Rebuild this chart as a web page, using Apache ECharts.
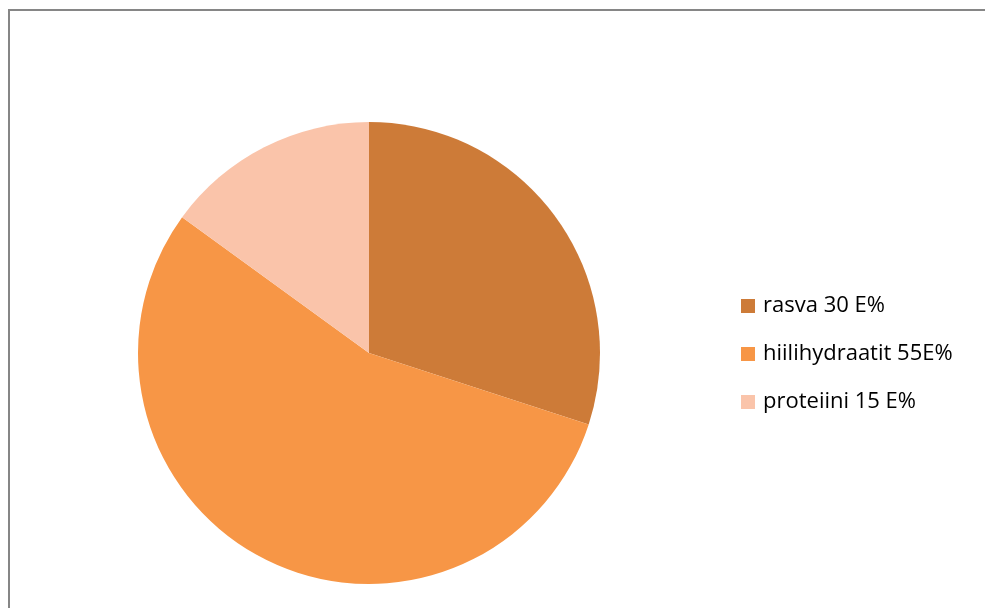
<!DOCTYPE html>
<html><head><meta charset="utf-8">
<script src="https://cdn.jsdelivr.net/npm/echarts@6/dist/echarts.min.js"></script>
<style>html,body{margin:0;padding:0;background:#fff}#c{width:985px;height:608px}</style>
</head><body><div id="c"></div>
<script>
const categories = ['rasva 30 E%', 'hiilihydraatit 55E%', 'proteiini 15 E%'];
const values = [30, 55, 15];
const colors = ['#CD7B38', '#F79646', '#FAC4AA'];
const chart = echarts.init(document.getElementById('c'));
chart.setOption({
  animation: false,
  graphic: [{type:'rect', shape:{x:9, y:10, width:1100, height:800}, style:{fill:'none', stroke:'#868686', lineWidth:2}, silent:true}],
  legend: {
    orient: 'vertical', left: 736, top: 290,
    itemWidth: 14, itemHeight: 14, itemGap: 26, icon: 'rect',
    textStyle: {fontFamily: 'Open Sans', fontSize: 22, color: '#000', lineHeight: 20, padding:[0,0,0,3]},
    data: categories
  },
  series: [{
    type: 'pie', center: [369, 353], radius: 231, startAngle: 90, clockwise: true,
    label: {show: false}, labelLine: {show: false},
    itemStyle: {borderWidth: 0},
    emphasis: {disabled: true},
    data: categories.map((c, i) => ({name: c, value: values[i], itemStyle: {color: colors[i]}}))
  }]
});
</script></body></html>
